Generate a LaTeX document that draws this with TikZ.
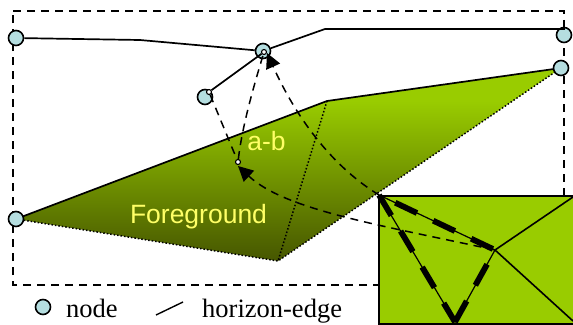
\documentclass[tikz,border=0pt]{standalone}
\usepackage{fontspec}
\setmainfont{Liberation Serif}
\setsansfont{Liberation Sans}
\usetikzlibrary{arrows.meta}
\definecolor{lime}{HTML}{99CC00}
\definecolor{darkolive}{HTML}{465600}
\definecolor{nodeblue}{HTML}{B5DEE0}
\definecolor{labelyellow}{HTML}{FFFF66}
\tikzset{
  x=1pt,y=-1pt,
  graphnode/.style={circle,draw=black,fill=nodeblue,line width=1.6pt,minimum size=15pt,inner sep=0pt},
  tinynode/.style={circle,draw=black,fill=white,line width=1.1pt,minimum size=5pt,inner sep=0pt},
  horizon/.style={line width=1.7pt,black},
  hinge/.style={line width=1.5pt,dotted,line cap=butt},
  guide/.style={line width=1.5pt,dash pattern=on 8pt off 6pt},
  guidearrow/.style={guide,-{Triangle[length=15pt,width=15pt]}},
  thin edge/.style={line width=1.2pt},
  heavy edge/.style={line width=5.8pt,dash pattern=on 24pt off 18pt},
  yellowlabel/.style={font=\sffamily\fontsize{26.5}{28}\selectfont,text=labelyellow,inner sep=0pt},
  legendtext/.style={font=\rmfamily\fontsize{26.5}{28}\selectfont,inner sep=0pt,anchor=base west}
}
\begin{document}
\begin{tikzpicture}
\useasboundingbox (0,0) rectangle (573,324);
% frame
\coordinate (fa) at (13,11);
\coordinate (fb) at (564,11);
\coordinate (fc) at (564,285);
\coordinate (fd) at (13,285);
\draw[guide,line width=1.3pt] (fa) -- (fb) -- (fc) -- (fd) -- cycle;
% foreground
\coordinate (pl) at (16,219);
\coordinate (pt) at (327,101);
\coordinate (pr) at (561,68);
\coordinate (pb) at (278,261);
\begin{scope}
\clip (pl) -- (pt) -- (pr) -- (pb) -- cycle;
\fill[lime] (0,60) rectangle (573,101.5);
\shade[top color=lime,bottom color=darkolive] (0,101) rectangle (573,261);
\end{scope}
\draw[horizon] (pl) -- (pt) -- (pr);
\draw[hinge] (pr) -- (pb) -- (pl);
\draw[hinge] (pt) -- (pb);
\node[yellowlabel] (ab) at (266.5,141) {a-b};
\node[yellowlabel] (fg) at (198.5,217) {Foreground};
% graph nodes
\node[graphnode] (A) at (16,38) {};
\node[graphnode] (B) at (263,51) {};
\node[graphnode] (C) at (205,97) {};
\node[graphnode] (D) at (564,35) {};
\node[graphnode] (E) at (561,68) {};
\node[graphnode] (F) at (16,219) {};
\coordinate (h1) at (140,40);
\coordinate (h2) at (325,29);
\coordinate (h3) at (564,29);
\draw[horizon] (A) -- (h1) -- (B);
\draw[horizon] (B) -- (h2) -- (h3) -- (D);
\node[tinynode] (tb) at (264,52) {};
\node[tinynode] (tc) at (209,92) {};
\node[tinynode] (tm) at (238,162) {};
\draw[horizon] (tb) -- (tc);
% inset
\node[draw=black,line width=2pt,fill=lime,minimum width=195pt,minimum height=128.5pt,inner sep=0pt,anchor=north west] (inset) at (378,194.5) {};
\coordinate (ia) at (379,195);
\coordinate (ib) at (495,250);
\coordinate (ic) at (455,322);
\coordinate (id) at (573,197);
\coordinate (ie) at (573,321);
\draw[thin edge] (ia) -- (ib) -- (ic) -- cycle;
\draw[line width=1.6pt] (ib) -- (id);
\draw[line width=1.6pt] (ib) -- (ie);
\draw[heavy edge,dash phase=24pt] (ia) -- (ib);
\draw[heavy edge] (ia) -- (ic);
\draw[heavy edge] (ic) -- (ib);
% dashed guides
\draw[guide] (tc) -- (tm);
\draw[guide] (tm) .. controls (242,128) and (252,92) .. (tb);
\draw[guidearrow] (ia) .. controls (330,165) and (295,115) .. (267,53);
\draw[guidearrow] (ib) .. controls (380,225) and (285,210) .. (238,166);
% legend
\node[graphnode,minimum size=15pt] (ln) at (43,307) {};
\node[legendtext] (lnt) at (66,317) {node};
\coordinate (la) at (156,315);
\coordinate (lb) at (183,302);
\draw[line width=1.4pt] (la) -- (lb);
\node[legendtext] (let) at (202,317) {horizon-edge};
\end{tikzpicture}
\end{document}
